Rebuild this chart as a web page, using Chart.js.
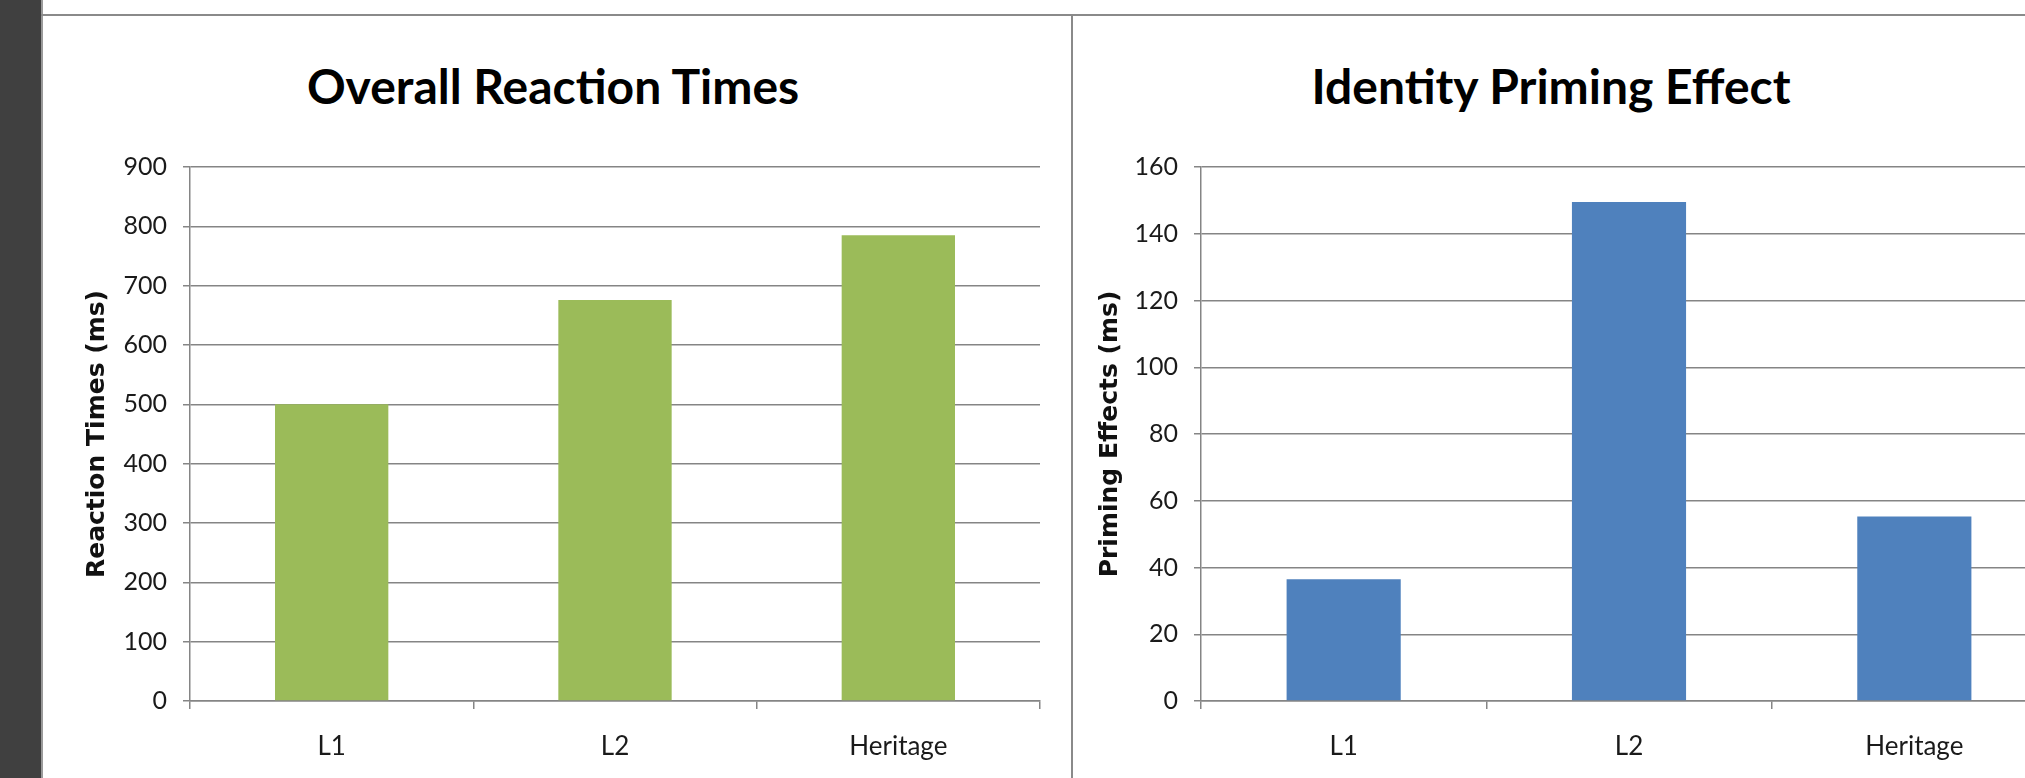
<!DOCTYPE html>
<html>
<head>
<meta charset="utf-8">
<script src="https://cdn.jsdelivr.net/npm/chart.js@4.4.1/dist/chart.umd.min.js"></script>
<style>
  html, body { margin: 0; padding: 0; width: 2025px; height: 778px; overflow: hidden; background: #fff; }
  #side { position: absolute; left: 0; top: 0; width: 41px; height: 778px; background: #404040; border-right: 2px solid #9a9a9a; }
  #topline { position: absolute; left: 41px; top: 14px; width: 1984px; height: 2px; background: #8a8a8a; }
  #divider { position: absolute; left: 1071px; top: 14px; width: 2px; height: 764px; background: #8a8a8a; }
  .title { position: absolute; top: 57px; width: 600px; font: 700 48px Lato, sans-serif; line-height: 1.2;
           text-align: center; color: #000; white-space: nowrap; }
  #title1 { left: 253px; }
  #title2 { left: 1251px; }
  #wrap1 { position: absolute; left: 42px; top: 16px; }
  #wrap2 { position: absolute; left: 1073px; top: 16px; }
</style>
</head>
<body>
<div id="side"></div>
<div id="topline"></div>
<div id="divider"></div>
<div class="title" id="title1">Overall Reaction Times</div>
<div class="title" id="title2">Identity Priming Effect</div>
<div id="wrap1"><canvas id="rt" width="1028" height="762"></canvas></div>
<div id="wrap2"><canvas id="pe" width="1000" height="762"></canvas></div>
<script>
// Groups shown on both charts
const categories = ['L1', 'L2', 'Heritage'];

// Mean reaction times per group (ms)
const reactionTimes = [500, 676, 785];

// Identity priming effect per group (ms)
const primingEffects = [36.5, 149.5, 55.3];

// Value-axis ranges
const reactionAxis = { min: 0, max: 900, step: 100 };
const primingAxis = { min: 0, max: 160, step: 20 };

const GRID = '#858585';
const TEXT = '#1a1a1a';

function barChart(id, values, color, axis, axisTitle, axisWidth, titlePad, rightPad) {
  return new Chart(document.getElementById(id), {
    type: 'bar',
    data: {
      labels: categories,
      datasets: [{
        data: values,
        backgroundColor: color,
        borderWidth: 0,
        barPercentage: 0.4,
        categoryPercentage: 1
      }]
    },
    options: {
      responsive: false,
      animation: false,
      devicePixelRatio: 1,
      layout: { padding: { top: 151, left: 0, right: rightPad, bottom: 0 } },
      plugins: { legend: { display: false }, tooltip: { enabled: false } },
      scales: {
        x: {
          offset: true,
          grid: { display: true, offset: true, drawOnChartArea: false, drawTicks: true, tickLength: 8, color: GRID, lineWidth: 1.5 },
          border: { display: true, color: GRID, width: 1.5 },
          ticks: { color: TEXT, font: { family: 'Lato', size: 26 }, padding: 22, maxRotation: 0 },
          afterFit(s) { s.height = 77; }
        },
        y: {
          min: axis.min,
          max: axis.max,
          ticks: { stepSize: axis.step, color: TEXT, font: { family: 'Lato', size: 25 }, padding: 16 },
          grid: { color: GRID, lineWidth: 1.5, tickLength: 7, drawTicks: true },
          border: { display: true, color: GRID, width: 1.5 },
          title: {
            display: true,
            text: axisTitle,
            color: '#111',
            font: { family: 'DejaVu Sans', weight: 'bold', size: 25 },
            padding: { top: titlePad, bottom: 0 }
          },
          afterFit(s) { s.width = axisWidth; }
        }
      }
    }
  });
}

barChart('rt', reactionTimes, '#9BBB59', reactionAxis, 'Reaction Times (ms)', 148, 40, 30);
barChart('pe', primingEffects, '#4F81BD', primingAxis, 'Priming Effects (ms)', 128, 22, 16);
</script>
</body>
</html>
